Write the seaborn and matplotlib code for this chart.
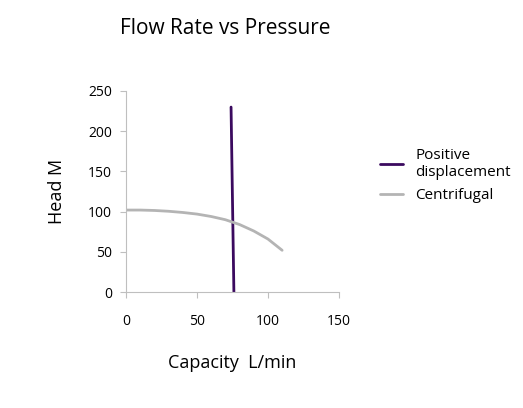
import matplotlib
matplotlib.use("Agg")
import matplotlib.pyplot as plt
import seaborn as sns
import pandas as pd

pd_x = [74, 76]
pd_y = [230, 0]
cf_x = [0, 10, 20, 30, 40, 50, 60, 70, 80, 90, 100, 110]
cf_y = [102, 102, 101.5, 100.5, 99, 97, 94, 90, 84, 76, 66, 52]

sns.set_style("white")
plt.rcParams['font.family'] = ['Open Sans', 'DejaVu Sans']
plt.rcParams['text.color'] = 'black'
plt.rcParams['axes.labelcolor'] = 'black'
plt.rcParams['xtick.color'] = 'black'
plt.rcParams['ytick.color'] = 'black'

fig = plt.figure(figsize=(5.23, 4.08), dpi=100)
ax = fig.add_axes([0.241, 0.284, 0.407, 0.493])
df1 = pd.DataFrame({"x": pd_x, "y": pd_y})
df2 = pd.DataFrame({"x": cf_x, "y": cf_y})
sns.lineplot(data=df1, x="x", y="y", ax=ax, color="#3b0a5f", lw=2, label="Positive\ndisplacement", sort=False)
sns.lineplot(data=df2, x="x", y="y", ax=ax, color="#b4b4b4", lw=2, label="Centrifugal")
ax.set_xlim(0, 150)
ax.set_ylim(0, 250)
ax.set_xticks([0, 50, 100, 150])
ax.set_yticks([0, 50, 100, 150, 200, 250])
for s in ["top", "right"]:
    ax.spines[s].set_visible(False)
for s in ["left", "bottom"]:
    ax.spines[s].set_color("#bfbfbf")
ax.tick_params(axis="both", length=4, color="#bfbfbf", labelsize=10, direction="out", bottom=True, left=True)
ax.tick_params(axis="x", pad=12)
ax.tick_params(axis="y", pad=6)
ax.set_xlabel("Capacity  L/min", fontsize=13, labelpad=18)
ax.set_ylabel("Head M", fontsize=13, labelpad=16)
fig.suptitle("Flow Rate vs Pressure", x=0.43, y=0.955, fontsize=15)
ax.legend(loc="center left", bbox_to_anchor=(1.13, 0.58), frameon=False, fontsize=11, handlelength=1.5)
fig.savefig("out.png", dpi=100)
